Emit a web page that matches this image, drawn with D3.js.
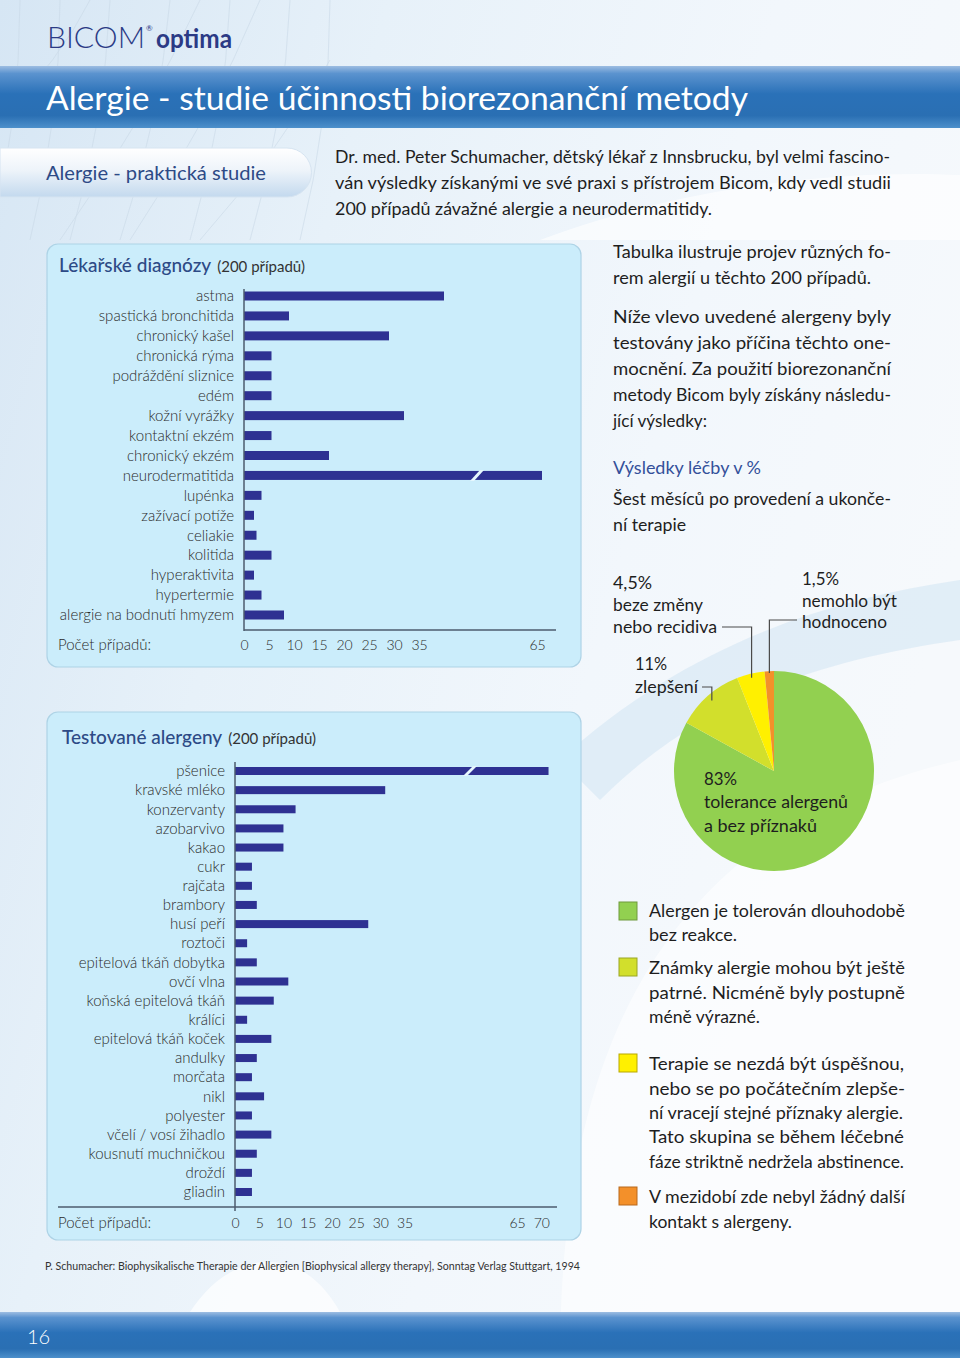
<!DOCTYPE html>
<html><head><meta charset="utf-8">
<script src="https://cdn.jsdelivr.net/npm/d3@7"></script>
<style>
html,body{margin:0;padding:0;background:#fff;}
svg{display:block;font-family:Lato,"Open Sans","DejaVu Sans",sans-serif;}
</style></head><body>
<svg id="c" width="960" height="1358"></svg>
<script>
// ---------------- DATA ----------------
const diagCategories = ["astma","spastická bronchitida","chronický kašel","chronická rýma","podráždění sliznice","edém","kožní vyrážky","kontaktní ekzém","chronický ekzém","neurodermatitida","lupénka","zažívací potíže","celiakie","kolitida","hyperaktivita","hypertermie","alergie na bodnutí hmyzem"];
const diagValues = [40, 9, 29, 5.5, 5.5, 5.5, 32, 5.5, 17, 66, 3.5, 2, 2.5, 5.5, 2, 3.5, 8];
const diagTicks = [0,5,10,15,20,25,30,35,65];

const allergenCategories = ["pšenice","kravské mléko","konzervanty","azobarvivo","kakao","cukr","rajčata","brambory","husí peří","roztoči","epitelová tkáň dobytka","ovčí vlna","koňská epitelová tkáň","králíci","epitelová tkáň koček","andulky","morčata","nikl","polyester","včelí / vosí žihadlo","kousnutí muchničkou","droždí","gliadin"];
const allergenValues = [71.5, 31, 12.5, 10, 10, 3.5, 3.5, 4.5, 27.5, 2.5, 4.5, 11, 8, 2.5, 7.5, 4.5, 3.5, 6, 3.5, 7.5, 4.5, 3.5, 3.5];
const allergenTicks = [0,5,10,15,20,25,30,35,65,70];

const outcomeKeys = ["tolerance","zlepšení","beze změny","nehodnoceno"];
const outcomeValues = [83, 11, 4.5, 1.5];
const outcomePercentLabels = ["83%","11%","4,5%","1,5%"];
const outcomeTexts = [["tolerance alergenů","a bez příznaků"],["zlepšení"],["beze změny","nebo recidiva"],["nemohlo být","hodnoceno"]];
const legendTexts = [
  ["Alergen je tolerován dlouhodobě","bez reakce."],
  ["Známky alergie mohou být ještě","patrné. Nicméně byly postupně","méně výrazné."],
  ["Terapie se nezdá být úspěšnou,","nebo se po počátečním zlepše-","ní vracejí stejné příznaky alergie.","Tato skupina se během léčebné","fáze striktně nedržela abstinence."],
  ["V mezidobí zde nebyl žádný další","kontakt s alergeny."]
];

// ---------------- STYLE ----------------
const sliceColors = ["#92d050","#d2df2c","#fff000","#f3902a"];
const sliceStroke = ["#6f9a3c","#9aa622","#b8a800","#b8691c"];
const barColor = "#2e3192";
const panelFill = "#cbedfb";
const navy = "#2d4a86";
const textCol = "#1e1e1e";

const svg = d3.select("#c");
const defs = svg.append("defs");

function lg(id, x1,y1,x2,y2, stops){
  const g = defs.append("linearGradient").attr("id",id).attr("x1",x1).attr("y1",y1).attr("x2",x2).attr("y2",y2);
  stops.forEach(s=>g.append("stop").attr("offset",s[0]).attr("stop-color",s[1]));
}
lg("bg","0","0","1","0.4",[[0,"#d6e6f4"],[0.35,"#e7f1f9"],[0.7,"#f2f7fc"],[1,"#f6f9fc"]]);
lg("banner","0","0","0","1",[[0,"#9dbde2"],[0.12,"#5b93cf"],[0.45,"#2a71b8"],[0.8,"#2a6fb3"],[1,"#4d90cb"]]);
lg("pill","0","0","0","1",[[0,"#ffffff"],[0.45,"#eef4fa"],[1,"#c3d9ee"]]);

// ---------------- BACKGROUND ----------------
svg.append("rect").attr("width",960).attr("height",1358).attr("fill","url(#bg)");
svg.append("path").attr("d","M560,1358 C560,1000 700,820 960,760 L960,1358 Z").attr("fill","#ffffff").attr("opacity",0.55);
svg.append("path").attr("d","M560,760 C680,650 820,600 960,580 L960,640 C820,660 700,700 600,800 Z").attr("fill","#d3e6f4").attr("opacity",0.6);
svg.append("path").attr("d","M540,240 C700,180 860,170 960,175 L960,240 Z").attr("fill","#ffffff").attr("opacity",0.6);
svg.append("path").attr("d","M190,1312 C230,1250 300,1240 340,1312 Z").attr("fill","#ffffff").attr("opacity",0.7);
const hair = svg.append("g").attr("stroke","#c9d8e6").attr("stroke-width",0.7).attr("fill","none").attr("opacity",0.8);
[[20,0,-10,240],[60,0,30,240],[110,0,70,240],[170,0,120,240],[230,0,190,240],[290,0,250,240],[330,0,300,240],[0,120,90,0],[60,240,200,0],[130,240,260,0],[200,240,330,60]].forEach(l=>{
  hair.append("path").attr("d",`M${l[0]},${l[1]} Q${(l[0]+l[2])/2+15},${(l[1]+l[3])/2} ${l[2]},${l[3]}`);
});

// ---------------- HEADER ----------------
const logo = svg.append("text").attr("x",47).attr("y",48).attr("fill","#2b3a85");
logo.append("tspan").attr("font-size",30).attr("font-weight",300).attr("textLength",98).attr("lengthAdjust","spacingAndGlyphs").text("BICOM");
svg.append("text").attr("x",146).attr("y",31).attr("font-size",8).attr("fill","#2b3a85").text("®");
svg.append("text").attr("x",156).attr("y",48).attr("font-size",26).attr("font-weight",700).attr("fill","#2b3a85")
  .attr("textLength",76).attr("lengthAdjust","spacingAndGlyphs").text("optima");

svg.append("rect").attr("x",0).attr("y",66).attr("width",960).attr("height",62).attr("fill","url(#banner)");
svg.append("text").attr("x",46).attr("y",110).attr("font-size",32).attr("font-weight",400).attr("fill","#ffffff")
  .attr("textLength",702).attr("lengthAdjust","spacingAndGlyphs").text("Alergie - studie účinnosti biorezonanční metody");

svg.append("path").attr("d","M0,148 L287,148 A24.5,24.5 0 0 1 287,197 L0,197 Z").attr("fill","url(#pill)").attr("stroke","#d6e4f1").attr("stroke-width",1);
svg.append("text").attr("x",46).attr("y",180).attr("font-size",19).attr("fill",navy)
  .attr("textLength",220).attr("lengthAdjust","spacingAndGlyphs").text("Alergie - praktická studie");

function lines(spec, x, size, fill){
  spec.forEach(s=>{
    const t = svg.append("text").attr("x",x).attr("y",s[1]).attr("font-size",size).attr("fill",fill||textCol).text(s[0]);
    if(s[2]) t.attr("textLength",s[2]-x).attr("lengthAdjust","spacingAndGlyphs");
  });
}
lines([
  ["Dr. med. Peter Schumacher, dětský lékař z Innsbrucku, byl velmi fascino-",163,890],
  ["ván výsledky získanými ve své praxi s přístrojem Bicom, kdy vedl studii",189,891],
  ["200 případů závažné alergie a neurodermatitidy.",215,712]
],335,17);

// ---------------- BAR CHARTS ----------------
function panel(x,y,w,h){
  svg.append("rect").attr("x",x).attr("y",y).attr("width",w).attr("height",h).attr("rx",11)
    .attr("fill",panelFill).attr("stroke","#aed3e6").attr("stroke-width",1.2);
}
function barChart(o){
  const g = svg.append("g");
  const y = d3.scalePoint().domain(o.cats).range([o.y0,o.y1]);
  const x = o.x;
  const t = g.append("text").attr("x",o.titleX).attr("y",o.titleY);
  t.append("tspan").attr("font-size",19).attr("font-weight",500).attr("fill",navy).text(o.title);
  t.append("tspan").attr("font-size",15).attr("fill","#333").attr("dx",6).text("(200 případů)");
  g.selectAll("rect.bar").data(o.cats).join("rect").attr("class","bar")
    .attr("x",x(0)).attr("y",d=>y(d)-o.barH/2)
    .attr("width",(d,i)=>x(o.vals[i])-x(0)).attr("height",o.barH).attr("fill",barColor);
  const bx = x(o.breakVal);
  g.selectAll("path.brk").data(o.cats.filter((d,i)=>o.vals[i]>o.breakVal)).join("path")
    .attr("d",d=>{const yt=y(d)-o.barH/2-1, yb=y(d)+o.barH/2+1;
      return `M${bx-7},${yb} L${bx-3},${yb} L${bx+7},${yt} L${bx+3},${yt} Z`;})
    .attr("fill","#e6f7fd");
  g.selectAll("text.lab").data(o.cats).join("text").attr("class","lab")
    .attr("x",x(0)-o.labGap).attr("y",d=>y(d)).attr("dy","0.35em").attr("text-anchor","end")
    .attr("font-size",15).attr("font-weight",300).attr("fill","#2a2a2a").text(d=>d);
  g.append("line").attr("x1",x(0)).attr("x2",x(0)).attr("y1",o.vTop).attr("y2",o.vBot).attr("stroke","#4d5b6e").attr("stroke-width",1.5);
  g.append("line").attr("x1",o.hX0).attr("x2",o.hX1).attr("y1",o.hY).attr("y2",o.hY).attr("stroke","#4d5b6e").attr("stroke-width",1.5);
  const ax = d3.axisBottom(x).tickValues(o.ticks).tickSize(0).tickPadding(0).tickFormat(d3.format("d"));
  const ag = g.append("g").attr("transform",`translate(0,${o.tickY})`).call(ax);
  ag.select(".domain").remove();
  ag.selectAll("text").attr("y",0).attr("dy","0.35em").attr("font-size",14).attr("font-weight",300)
    .attr("fill","#2a2a2a").attr("font-family","Lato,'Open Sans',sans-serif");
  g.append("text").attr("x",58).attr("y",o.tickY).attr("dy","0.3em").attr("font-size",15).attr("font-weight",300).attr("fill","#2a2a2a").text("Počet případů:");
}

panel(47,244,534,423);
barChart({
  cats:diagCategories, vals:diagValues, ticks:diagTicks,
  x:d3.scaleLinear().domain([0,46.6,53,70]).range([244,477,477,562]),
  breakVal:46.6, y0:296, y1:615, barH:9, labGap:10,
  title:"Lékařské diagnózy", titleX:59, titleY:272,
  vTop:289, vBot:631, hX0:244, hX1:556, hY:630, tickY:645
});

panel(47,712,534,528);
barChart({
  cats:allergenCategories, vals:allergenValues, ticks:allergenTicks,
  x:d3.scaleLinear().domain([0,48.5,55.3,75]).range([235,470,470,565.5]),
  breakVal:48.5, y0:771, y1:1192, barH:8, labGap:10,
  title:"Testované alergeny", titleX:62, titleY:744,
  vTop:762, vBot:1211, hX0:58, hX1:557, hY:1207, tickY:1223
});

// ---------------- RIGHT COLUMN TEXT ----------------
lines([
  ["Tabulka ilustruje projev různých fo-",258,891],
  ["rem alergií u těchto 200 případů.",284,871],
  ["Níže vlevo uvedené alergeny byly",323,891],
  ["testovány jako příčina těchto one-",349,891],
  ["mocnění. Za použití biorezonanční",375,891],
  ["metody Bicom byly získány následu-",401,891],
  ["jící výsledky:",427,707],
  ["Šest měsíců po provedení a ukonče-",505,891],
  ["ní terapie",531,686]
],613,17.5);
lines([["Výsledky léčby v %",474,761]],613,17.5,"#34509a");

// ---------------- PIE ----------------
const cx=774, cy=771, R=100;
const pie = d3.pie().sort(null).value(d=>d).startAngle(0).endAngle(2*Math.PI);
const arcs = pie(outcomeValues);
const arc = d3.arc().innerRadius(0).outerRadius(R);
const pg = svg.append("g").attr("transform",`translate(${cx},${cy})`);
pg.selectAll("path").data(arcs).join("path").attr("d",arc).attr("fill",(d,i)=>sliceColors[i]);

function edge(i, r){ const a=(arcs[i].startAngle+arcs[i].endAngle)/2; return [cx+r*Math.sin(a), cy-r*Math.cos(a)]; }
const lab = svg.append("g").attr("font-size",17).attr("fill",textCol);
function plabel(x, ys, txts, ends){
  txts.forEach((t,k)=>lab.append("text").attr("x",x).attr("y",ys[k]).attr("textLength",ends[k]-x).attr("lengthAdjust","spacingAndGlyphs").text(t));
}
plabel(613,[589,611,633],[outcomePercentLabels[2]].concat(outcomeTexts[2]),[652,703,717]);
plabel(802,[585,607,628],[outcomePercentLabels[3]].concat(outcomeTexts[3]),[839,897,887]);
plabel(635,[670,693],[outcomePercentLabels[1]].concat(outcomeTexts[1]),[667,698]);
plabel(704,[785,808,832],[outcomePercentLabels[0]].concat(outcomeTexts[0]),[737,848,817]);

const ld = svg.append("g").attr("fill","none").attr("stroke","#4a4a4a").attr("stroke-width",1.2);
const e2=edge(2,R-4), e3=edge(3,R-2), e1=edge(1,R-6);
ld.append("path").attr("d",`M722,627 H${e2[0]} V${e2[1]}`);
ld.append("path").attr("d",`M797,620 H${e3[0]} V${e3[1]}`);
ld.append("path").attr("d",`M702,687 H${e1[0]} V${e1[1]}`);

// ---------------- LEGEND ----------------
const legY = [[917,941],[974,999,1023],[1070,1095,1119,1143,1168],[1203,1228]];
const legEnds = [[905,737],[905,905,760],[904,905,903,904,904],[905,792]];
const swY = [902,958,1054,1187];
legendTexts.forEach((ls,i)=>{
  svg.append("rect").attr("x",619).attr("y",swY[i]).attr("width",18).attr("height",18)
    .attr("fill",sliceColors[i]).attr("stroke",sliceStroke[i]).attr("stroke-width",1);
  lines(ls.map((t,k)=>[t,legY[i][k],legEnds[i][k]]),649,17.5);
});

// ---------------- FOOTER ----------------
svg.append("text").attr("x",45).attr("y",1270).attr("font-size",11).attr("fill","#333")
  .attr("textLength",535).attr("lengthAdjust","spacingAndGlyphs")
  .text("P. Schumacher: Biophysikalische Therapie der Allergien [Biophysical allergy therapy], Sonntag Verlag Stuttgart, 1994");
svg.append("rect").attr("x",0).attr("y",1312).attr("width",960).attr("height",46).attr("fill","url(#banner)");
svg.append("text").attr("x",27).attr("y",1344).attr("font-size",20).attr("font-weight",300).attr("fill","#fff").text("16");
</script>
</body></html>
